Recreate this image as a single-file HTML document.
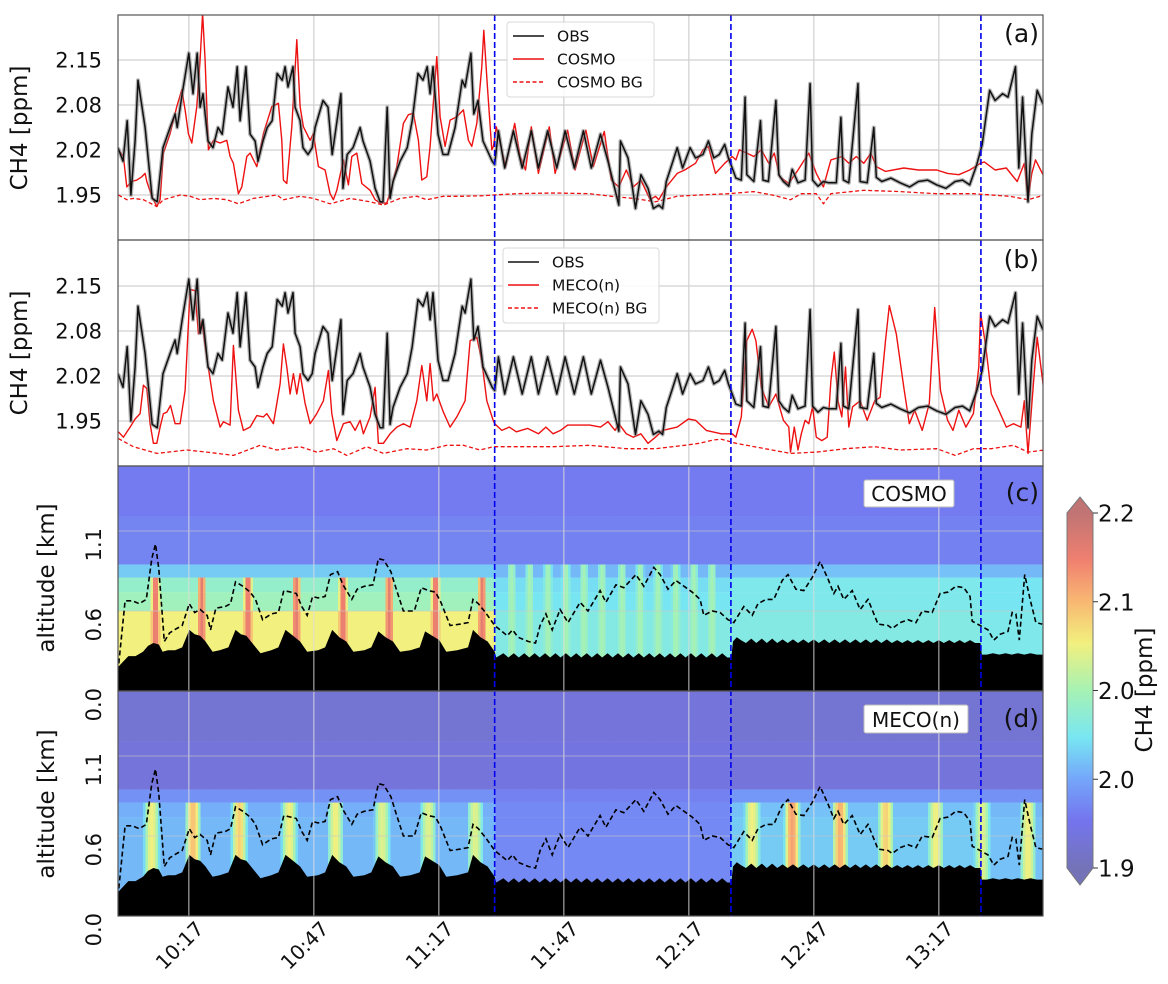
<!DOCTYPE html>
<html><head><meta charset="utf-8">
<style>
html,body{margin:0;padding:0;background:#fff;}
svg{display:block;font-family:"DejaVu Sans","Liberation Sans",sans-serif;}
</style></head>
<body>
<svg id="fig" width="1168" height="984" viewBox="0 0 1168 984" xmlns="http://www.w3.org/2000/svg">
<defs>
<clipPath id="clipA"><rect x="118" y="15" width="925" height="225"/></clipPath>
<clipPath id="clipB"><rect x="118" y="240" width="925" height="226"/></clipPath>
<clipPath id="clipC"><rect x="118" y="466" width="925" height="225"/></clipPath>
<clipPath id="clipD"><rect x="118" y="691" width="925" height="225"/></clipPath>
<linearGradient id="cbGrad" x1="0" y1="1" x2="0" y2="0">
<stop offset="0" stop-color="#7473b8"/><stop offset="0.133" stop-color="#7474ee"/>
<stop offset="0.25" stop-color="#74a6fa"/><stop offset="0.367" stop-color="#78e6f2"/>
<stop offset="0.5" stop-color="#a6f2b4"/><stop offset="0.633" stop-color="#f2f07e"/>
<stop offset="0.75" stop-color="#f8b872"/><stop offset="0.867" stop-color="#f08070"/>
<stop offset="1" stop-color="#c07474"/>
</linearGradient>
</defs>
<g id="root"></g>
</svg>
<script>
// ---------- DATA ----------
const TICK_TIMES = [17, 47, 77, 107, 137, 167, 197];
const TICK_LABELS = ["10:17", "10:47", "11:17", "11:47", "12:17", "12:47", "13:17"];
const CH4_TICKS = [1.95, 2.0167, 2.0833, 2.15];
const CH4_TICK_LABELS = ["1.95", "2.02", "2.08", "2.15"];
const ALT_TICKS = [0, 0.55, 1.1];
const ALT_TICK_LABELS = ["0.0", "0.6", "1.1"];
const SECTION_TIMES = [90.4, 147.1, 207.1];
const CB_TICKS = [1.9, 1.975, 2.05, 2.125, 2.2];
const CB_LABELS = ["1.9", "2.0", "2.0", "2.1", "2.2"];

const OBS_T = [0,1.2,2.2,3.1,4.1,4.8,6.5,8.2,9.4,10.8,12.5,13.7,14.2,15.4,17.0,18.0,19.0,19.7,20.4,21.6,22.8,24.0,25.0,26.4,27.6,28.6,29.3,30.7,31.7,32.9,33.6,34.8,35.8,37.0,38.2,39.4,40.1,40.8,42.0,42.5,43.7,44.4,45.6,46.6,47.3,49.2,50.4,51.4,53.5,54.0,55.0,56.4,58.1,58.8,60.5,61.7,62.9,63.6,64.6,65.3,66.0,67.7,69.4,70.6,72.0,73.2,74.2,74.9,75.6,76.8,78.0,79.2,80.9,82.6,83.3,84.7,85.4,86.4,87.6,89.8,
90.4,91.3,92.8,94.9,97.0,99.2,100.9,103.1,105.3,107.3,109.5,111.7,113.6,115.8,117.6,120.2,120.6,122.4,124.2,125.5,127.2,128.5,129.8,130.7,131.6,132.9,134.2,135.5,137.3,138.6,140.4,141.7,143.0,144.3,145.6,146.5,147.4,148.3,149.6,150.5,150.9,152.6,154.2,154.8,156.1,157.9,158.6,159.7,161.0,161.8,163.2,164.9,166.1,166.7,168.0,169.3,170.6,172.4,173.5,174.1,175.4,177.6,178.1,179.8,181.4,182.0,183.3,185.5,187.7,190,192.1,194.3,196.5,198.7,200.9,202.7,204.4,206.1,207.4,208.3,209.2,210.5,212.3,213.6,215.4,216.2,217.1,218.4,219.3,220.6,222];
const OBS_V = [2.02,2.00,2.06,1.95,2.03,2.12,2.05,1.945,1.94,2.02,2.05,2.07,2.05,2.10,2.16,2.10,2.16,2.08,2.10,2.03,2.02,2.05,2.04,2.11,2.08,2.14,2.06,2.14,2.04,2.03,2.00,2.03,2.05,2.06,2.13,2.12,2.14,2.11,2.14,2.08,2.06,2.02,2.01,2.02,2.05,2.09,2.08,2.01,2.10,1.96,2.01,2.02,2.05,2.03,2.00,1.96,1.94,1.94,2.08,1.945,1.97,2.00,2.02,2.06,2.13,2.12,2.14,2.10,2.14,2.04,2.01,2.01,2.05,2.12,2.11,2.16,2.07,2.09,2.03,2.00,
1.995,2.045,1.99,2.045,1.99,2.045,1.99,2.045,1.99,2.045,1.99,2.045,1.99,2.04,2.00,1.935,2.03,2.005,1.93,1.98,1.96,1.93,1.935,1.93,1.97,1.995,2.02,1.99,2.02,2.005,2.01,2.03,2.005,2.01,2.025,2.005,1.99,1.975,1.972,2.095,1.98,1.97,2.06,1.972,1.97,2.09,1.98,1.97,1.963,1.988,1.968,1.972,2.115,1.972,1.963,1.97,1.968,1.968,2.065,1.972,1.968,2.115,1.97,1.968,2.05,1.976,1.97,1.975,1.968,1.962,1.97,1.972,1.965,1.96,1.97,1.972,1.965,1.995,2.025,2.065,2.105,2.09,2.10,2.095,2.14,1.99,2.095,1.94,2.04,2.105,2.085];

const COSMO_T = [0.1,1.3,2.1,3.3,4.5,5.7,6.5,6.9,8.1,9.3,10.1,10.9,12.5,14.1,15.3,16.1,16.9,17.7,18.9,19.7,20.3,20.9,21.7,22.9,24.5,26.1,26.9,27.7,28.9,29.7,30.9,31.7,33.3,34.9,36.9,38.5,39.3,39.7,40.5,41.7,42.9,43.7,44.5,46.1,46.9,48.1,49.7,50.9,51.7,52.5,54.1,55.3,56.1,57.3,58.5,60.5,61.7,62.9,64.5,65.7,66.9,68.5,69.7,70.9,72.1,72.9,74.1,74.9,76.5,77.3,78.5,79.7,81.3,82.9,84.1,84.9,86.1,87.3,87.8,88.6,89.7,90.1,
90.8,91.7,93.0,95.2,96.5,97.8,99.2,100.9,103.5,104.9,107.9,109.7,112.3,114.1,116.7,118.4,120.2,122.0,123.7,125.5,127.7,129.0,129.8,131.6,134.2,136.0,138.6,140.4,141.7,143.4,145.6,147.4,148.3,149.1,150.9,152.6,154.4,156.2,157.5,158.8,161.0,163.2,165.8,167.6,169.3,171.1,173.7,175.4,177.2,179.0,180.7,182.0,184.2,188.6,192.1,196.5,199.1,201.8,204.4,207.0,207.9,210.5,213.2,215.8,217.5,218.4,219.3,220.2,222.4];
const COSMO_V = [2.017,2.007,1.962,1.970,1.972,1.977,1.982,1.970,1.948,1.933,1.943,2.012,2.041,2.081,2.106,2.076,2.041,2.027,2.081,2.150,2.219,2.150,2.017,2.031,2.027,2.031,2.007,1.997,1.952,1.962,2.007,2.012,1.992,2.041,2.081,2.086,2.031,1.972,1.967,2.051,2.180,2.081,2.051,2.031,2.041,1.992,1.987,1.952,1.943,1.957,2.002,1.965,2.007,2.012,1.967,1.957,1.943,1.938,1.938,1.962,1.992,2.056,2.069,2.071,2.031,1.972,1.977,2.022,2.155,2.066,2.022,2.061,2.066,2.076,2.031,2.022,2.056,2.140,2.194,2.115,2.017,2.022,
2.051,2.027,1.992,2.056,2.007,1.987,2.051,1.982,2.051,1.982,2.046,1.987,2.046,1.992,2.044,1.972,1.962,1.987,1.962,1.972,1.943,1.948,1.943,1.962,1.982,1.987,1.997,2.017,2.022,1.982,1.997,2.007,2.002,2.017,2.012,2.007,2.017,1.997,2.012,1.977,1.967,1.987,2.012,1.982,1.962,2.002,2.007,1.997,2.007,1.997,2.012,1.992,1.985,1.990,1.987,1.987,1.982,1.980,1.987,1.997,1.999,1.987,1.990,1.970,1.997,1.943,1.982,2.002,1.975];

const COSMO_BG_T = [0.1,2.1,3.7,6.1,9.3,10.9,14.9,17.3,19.7,22.9,26.1,28.9,32.5,38.1,39.7,43.7,46.9,50.9,55.7,60.5,63.7,67.7,71.7,74.1,78.1,82.1,87.7,90.1,95.6,104.4,113.2,118.4,123.7,129.0,134.2,139.5,146.5,152.6,157.0,161.4,164.0,167.6,169.3,171.1,179.0,187.7,196.5,205.3,209.6,214.0,218.4,222.4];
const COSMO_BG_V = [1.950,1.943,1.945,1.943,1.933,1.943,1.950,1.948,1.943,1.945,1.943,1.937,1.945,1.950,1.943,1.948,1.945,1.937,1.945,1.940,1.935,1.945,1.948,1.943,1.948,1.948,1.949,1.950,1.952,1.953,1.952,1.948,1.945,1.940,1.948,1.950,1.952,1.955,1.950,1.943,1.952,1.952,1.937,1.952,1.957,1.955,1.952,1.952,1.950,1.948,1.943,1.950];

const MECO_T = [0.1,1.3,2.9,4.1,5.3,6.1,6.9,7.7,8.5,9.3,10.1,10.9,11.7,12.6,13.7,14.9,16.1,17.3,18.5,19.3,20.1,21.3,22.9,24.5,25.3,26.9,27.7,28.9,30.1,31.7,33.3,34.9,35.7,37.3,38.9,39.7,40.5,41.3,42.1,42.9,43.7,44.9,46.1,47.7,49.3,50.5,51.3,52.5,54.1,55.7,56.9,58.1,58.9,60.5,61.7,62.5,63.7,65.3,66.9,68.5,70.1,71.7,72.9,74.1,74.9,75.7,76.5,78.1,79.7,81.3,83.3,84.5,86.1,87.3,88.5,90.1,
90.4,92.1,93.9,95.6,98.3,100.9,102.7,104.4,106.2,107.9,113.2,115.8,117.6,119.3,120.2,122.0,123.7,125.5,127.2,129.0,130.7,134.2,136.9,138.6,141.2,144.8,147.4,148.3,149.6,150.9,152.2,153.1,154.4,156.2,157.9,159.7,161.0,161.4,162.3,163.2,164.0,164.9,165.8,166.7,167.6,168.9,170.2,171.1,171.9,172.8,173.7,174.6,175.4,176.3,178.1,179.8,181.6,182.9,184.2,185.1,186.8,188.6,189.9,191.2,193.0,194.7,196.0,197.4,199.1,200.4,201.8,203.5,205.3,206.6,207.0,208.3,209.6,211.4,213.2,214.9,216.7,217.5,218.4,219.7,220.6,221.5,222.4];
const MECO_V = [1.934,1.926,1.941,1.953,1.961,2.003,1.998,1.946,1.917,1.917,1.941,1.961,1.963,1.973,1.946,1.946,1.995,2.145,2.143,2.079,2.098,2.044,1.980,1.941,1.949,1.944,2.062,1.966,1.936,1.941,1.958,1.956,1.961,1.946,2.005,2.064,2.030,1.990,2.020,1.990,2.020,1.976,1.946,1.961,1.980,2.025,1.961,1.921,1.946,1.949,1.936,1.951,1.931,1.956,2.000,1.917,1.917,1.931,1.941,1.946,1.941,1.980,2.032,1.980,2.035,1.980,1.990,1.963,1.941,1.956,1.980,2.069,2.074,2.039,1.980,1.950,
1.946,1.936,1.941,1.934,1.939,1.931,1.941,1.931,1.936,1.944,1.944,1.941,1.949,1.936,1.946,1.931,1.926,1.931,1.917,1.926,1.936,1.941,1.953,1.951,1.936,1.931,1.931,1.926,1.956,2.069,2.086,2.069,2.000,1.971,1.990,1.951,1.941,1.904,1.941,1.907,1.931,1.951,1.946,1.971,1.926,1.921,1.926,2.010,2.052,1.980,1.956,2.030,1.941,1.971,1.980,1.951,1.980,1.985,2.069,2.121,2.079,2.000,1.946,1.966,1.936,1.976,2.118,1.995,1.951,1.936,1.966,1.941,1.961,2.030,2.111,2.059,1.990,1.966,1.941,1.946,1.941,1.980,1.902,2.005,2.074,2.030,1.985];

const MECO_BG_T = [0.1,3.7,9.3,16.5,21.3,27.7,34.1,38.1,43.7,47.7,51.7,54.9,59.7,63.7,69.3,74.1,78.9,82.9,86.9,90.1,97.4,104.4,113.2,122.0,129.0,136.0,139.5,143.0,144.8,148.3,155.3,161.4,167.6,174.6,181.6,187.7,196.5,200.9,205.3,209.6,214.9,218.4,222.4];
const MECO_BG_V = [1.924,1.912,1.902,1.907,1.904,1.899,1.914,1.907,1.912,1.904,1.909,1.899,1.912,1.902,1.909,1.907,1.914,1.914,1.907,1.912,1.912,1.912,1.914,1.909,1.909,1.914,1.917,1.922,1.923,1.917,1.909,1.902,1.904,1.909,1.912,1.907,1.909,1.899,1.909,1.909,1.914,1.904,1.907];

const PBL_T = [0.2,1.7,3.4,5.1,6.8,8.1,9.0,9.8,11.1,12.4,14.1,15.4,16.2,17.1,18.4,19.7,21.4,22.2,23.5,25.7,27.0,28.2,30.0,31.7,33.0,34.7,36.8,38.5,39.8,41.5,42.8,44.1,45.4,46.7,48.0,49.7,51.0,52.7,54.0,56.1,57.4,59.1,61.2,62.5,63.8,65.5,66.8,68.5,71.1,72.8,74.5,76.2,77.5,79.7,82.2,84.0,85.2,86.5,88.2,90.4,91.7,93.4,94.7,96.0,98.5,100.2,
101.3,102.7,104.2,106.1,108.0,110.9,112.8,115.7,117.1,119.5,121.4,124.3,126.2,128.6,130.1,132.0,133.9,137.8,139.7,140.6,142.6,144.5,146.4,147.8,150.2,152.2,153.6,155.5,157.4,159.4,160.8,162.7,164.6,166.6,168.5,170.4,171.8,172.8,174.2,176.2,178.1,180.0,182.4,184.8,185.8,187.7,189.6,191.5,193.0,195.4,197.3,199.2,201.1,203.0,204.5,205.0,206.9,208.8,210.2,211.7,213.6,214.6,215.5,216.3,217.6,218.9,220.3,221.8];
const PBL_ALT = [0.19,0.62,0.62,0.60,0.63,0.91,1.01,0.84,0.34,0.40,0.43,0.45,0.52,0.60,0.54,0.56,0.52,0.42,0.57,0.58,0.60,0.75,0.72,0.68,0.63,0.49,0.53,0.54,0.69,0.68,0.67,0.58,0.52,0.65,0.64,0.65,0.80,0.82,0.73,0.63,0.70,0.72,0.73,0.91,0.90,0.82,0.70,0.55,0.55,0.71,0.69,0.68,0.61,0.45,0.46,0.47,0.63,0.60,0.54,0.45,0.42,0.38,0.42,0.37,0.34,0.33,
0.45,0.53,0.42,0.56,0.47,0.61,0.55,0.69,0.61,0.73,0.71,0.80,0.72,0.85,0.80,0.70,0.76,0.68,0.63,0.52,0.55,0.54,0.49,0.47,0.58,0.52,0.60,0.63,0.63,0.76,0.80,0.70,0.69,0.78,0.89,0.77,0.67,0.72,0.63,0.69,0.56,0.63,0.46,0.45,0.43,0.47,0.49,0.47,0.55,0.54,0.67,0.68,0.72,0.71,0.65,0.48,0.45,0.42,0.35,0.39,0.41,0.54,0.53,0.35,0.80,0.63,0.47,0.46];

const TERRAIN_T = [0,0.2,2.5,4.2,6.0,7.2,8.5,9.8,10.7,12.0,13.7,15.4,17.1,18.4,19.7,21.0,22.7,24.4,26.5,28.2,29.5,30.8,32.5,34.2,36.8,38.5,40.2,42.0,43.7,45.4,48.0,49.7,51.4,53.1,54.8,56.5,59.1,60.8,62.5,64.2,66.0,67.7,70.2,72.4,73.7,75.4,77.1,78.8,81.4,84.0,85.2,87.0,88.7,90.4,90.8,
92.5,93.7,95.0,96.2,97.5,98.7,100.0,101.2,102.5,103.7,105.0,106.2,107.5,108.7,110.0,111.2,112.5,113.7,115.0,116.2,117.5,118.7,120.0,121.2,122.5,123.7,125.0,126.2,127.5,128.7,130.0,131.2,132.5,133.7,135.0,136.2,137.5,138.7,140.0,141.2,142.5,143.7,145.0,146.2,147.2,
147.6,148.5,149.5,150.7,152.0,153.2,154.5,155.7,157.0,158.2,159.5,160.7,162.0,163.2,164.5,165.7,167.0,168.2,169.5,170.7,172.0,173.2,174.5,175.7,177.0,178.2,179.5,180.7,182.0,183.2,184.5,185.7,187.0,188.2,189.5,190.7,192.0,193.2,194.5,195.7,197.0,198.2,199.5,200.7,202.0,203.2,204.5,205.7,207.0,
207.3,208.5,210.0,211.5,213.0,214.5,216.0,217.5,219.0,220.5,222];
const TERRAIN_ALT = [0.17,0.17,0.24,0.24,0.27,0.31,0.33,0.32,0.27,0.28,0.28,0.30,0.42,0.39,0.38,0.34,0.27,0.28,0.30,0.42,0.39,0.38,0.32,0.26,0.28,0.30,0.42,0.38,0.34,0.27,0.28,0.30,0.42,0.37,0.34,0.27,0.28,0.30,0.41,0.37,0.34,0.27,0.28,0.30,0.41,0.38,0.35,0.27,0.28,0.30,0.42,0.37,0.34,0.27,0.23,
0.26,0.23,0.26,0.23,0.26,0.23,0.26,0.23,0.26,0.23,0.26,0.23,0.26,0.23,0.26,0.23,0.26,0.23,0.26,0.23,0.26,0.23,0.26,0.23,0.26,0.23,0.26,0.23,0.26,0.23,0.26,0.23,0.26,0.23,0.26,0.23,0.26,0.23,0.26,0.23,0.26,0.23,0.26,0.23,0.23,
0.34,0.37,0.35,0.33,0.36,0.33,0.36,0.33,0.36,0.33,0.355,0.33,0.355,0.33,0.355,0.33,0.355,0.33,0.355,0.33,0.355,0.33,0.355,0.33,0.355,0.33,0.355,0.33,0.355,0.33,0.355,0.33,0.35,0.33,0.35,0.33,0.35,0.33,0.35,0.33,0.35,0.33,0.35,0.33,0.35,0.33,0.35,0.33,0.33,
0.25,0.25,0.26,0.25,0.26,0.25,0.26,0.25,0.26,0.25,0.25];

const HM_LEVELS = [0, 0.55, 0.68, 0.78, 0.87, 1.2, 1.6];
const HM_SEG_END = [90.4, 147.1, 207.1, 222.5];
const COSMO_BANDS = [
  [2.09, 2.02, 2.02, 2.015],
  [2.045, 2.01, 2.015, 2.01],
  [2.035, 2.005, 2.015, 2.01],
  [1.995, 1.985, 1.99, 1.985],
  [1.952, 1.95, 1.95, 1.95],
  [1.944, 1.944, 1.944, 1.944]];
const COSMO_PLUME_T = [9.0,20.1,31.2,42.8,54.0,65.1,76.2,87.4,94.5,98.8,103.2,107.5,111.8,116.2,121.0,125.3,129.6,133.9,138.2,142.6];
const COSMO_PLUME_V = [2.17,2.17,2.17,2.17,2.17,2.17,2.17,2.17,2.05,2.05,2.05,2.05,2.05,2.05,2.05,2.05,2.05,2.05,2.05,2.05];
const COSMO_PLUME_TOP = [0.7,0.7,0.7,0.7,0.7,0.7,0.7,0.7,0.87,0.87,0.87,0.87,0.87,0.87,0.87,0.87,0.87,0.87,0.87,0.87];
const MECO_BANDS = [
  [1.985, 1.955, 1.995, 1.99],
  [1.985, 1.955, 1.995, 1.99],
  [1.98, 1.955, 1.99, 1.985],
  [1.96, 1.95, 1.965, 1.96],
  [1.925, 1.93, 1.925, 1.925],
  [1.92, 1.925, 1.92, 1.92]];
const MECO_PLUME_T = [8.1,18.0,29.1,41.1,52.2,63.4,74.5,85.7,152.2,161.8,173.3,184.3,196.3,207.4,218.4];
const MECO_PLUME_V = [2.09,2.12,2.11,2.09,2.09,2.08,2.08,2.08,2.09,2.14,2.13,2.11,2.09,2.08,2.09];
const MECO_PLUME_TOP = [0.78,0.78,0.78,0.78,0.78,0.78,0.78,0.78,0.78,0.78,0.78,0.78,0.78,0.78,0.78];

// ---------- RENDER ----------
const NS = "http://www.w3.org/2000/svg";
const root = document.getElementById("root");
function mk(tag, attrs, parent, text) {
  const e = document.createElementNS(NS, tag);
  for (const k in attrs) e.setAttribute(k, attrs[k]);
  if (text !== undefined) e.textContent = text;
  (parent || root).appendChild(e);
  return e;
}
const X0 = 118, X1 = 1043;
const xs = t => X0 + t * (925 / 222);
const yA = v => 195 - (v - 1.95) * 675;
const yB = v => 421 - (v - 1.95) * 675;
const yC = a => 691 - a * 145.45;
const yD = a => 916 - a * 145.45;
const PANELS = [[15, 240], [240, 466], [466, 691], [691, 916]];

const CM_V = [1.90, 1.94, 1.975, 2.01, 2.05, 2.09, 2.125, 2.16, 2.2];
const CM_C = [[116,115,184],[116,116,238],[116,166,250],[120,230,242],[166,242,180],[242,240,126],[248,184,114],[240,128,112],[192,116,116]];
function cmap(v) {
  if (v <= CM_V[0]) return "rgb(" + CM_C[0].join(",") + ")";
  for (let i = 1; i < CM_V.length; i++) {
    if (v <= CM_V[i]) {
      const f = (v - CM_V[i-1]) / (CM_V[i] - CM_V[i-1]);
      const c = CM_C[i-1].map((a, j) => Math.round(a + (CM_C[i][j] - a) * f));
      return "rgb(" + c.join(",") + ")";
    }
  }
  return "rgb(" + CM_C[CM_C.length-1].join(",") + ")";
}
function pathOf(T, V, ys) {
  const n = Math.min(T.length, V.length);
  let d = "";
  for (let i = 0; i < n; i++) d += (i ? "L" : "M") + xs(T[i]).toFixed(1) + "," + ys(V[i]).toFixed(1);
  return d;
}

PANELS.forEach((p, i) => {
  const r = mk("rect", {x: X0, y: p[0], width: X1 - X0, height: p[1] - p[0], fill: "#fff"});
  
  
});

function heatmap(bands, PT, PV, PTOP, ys, clip, name, pw) {
  const g = mk("g", {"clip-path": "url(#" + clip + ")"});
  
  
  const STEP = 0.6;
  for (let t0 = 0; t0 < 222; t0 += STEP) {
    const tm = t0 + STEP / 2;
    let seg = 0;
    while (seg < HM_SEG_END.length - 1 && tm > HM_SEG_END[seg]) seg++;
    for (let j = 0; j < HM_LEVELS.length - 1; j++) {
      const a0 = HM_LEVELS[j], a1 = HM_LEVELS[j+1];
      const base = bands[j][seg];
      let v = base;
      for (let p = 0; p < PT.length; p++) {
        const dt = Math.abs(tm - PT[p]);
        if (dt < pw && a0 < PTOP[p] - 0.01) {
          const f = 1 - Math.pow(dt / pw, 2);
          v = Math.max(v, base + (PV[p] - base) * f);
        }
      }
      const c = mk("rect", {x: xs(t0).toFixed(2), y: ys(a1).toFixed(2), width: (xs(t0 + STEP) - xs(t0) + 0.6).toFixed(2), height: (ys(a0) - ys(a1)).toFixed(2), fill: cmap(v)}, g);
      
      
    }
  }
}
heatmap(COSMO_BANDS, COSMO_PLUME_T, COSMO_PLUME_V, COSMO_PLUME_TOP, yC, "clipC", "cosmo-heatmap", 1.1);
heatmap(MECO_BANDS, MECO_PLUME_T, MECO_PLUME_V, MECO_PLUME_TOP, yD, "clipD", "meco-heatmap", 2.0);

[[yC, "clipC", "terrain-c"], [yD, "clipD", "terrain-d"]].forEach(([ys, clip, name]) => {
  let d = "M" + X0 + "," + ys(0);
  const n = Math.min(TERRAIN_T.length, TERRAIN_ALT.length);
  for (let i = 0; i < n; i++) d += "L" + xs(TERRAIN_T[i]).toFixed(1) + "," + ys(TERRAIN_ALT[i]).toFixed(1);
  d += "L" + X1 + "," + ys(TERRAIN_ALT[n-1]).toFixed(1) + "L" + X1 + "," + ys(0) + "Z";
  const e = mk("path", {d: d, fill: "#000", "clip-path": "url(#" + clip + ")"});
  
  
});

PANELS.forEach((p, i) => {
  const heat = i >= 2;
  const col = heat ? "rgba(220,220,220,0.75)" : "#d0d0d0";
  TICK_TIMES.forEach(t => {
    const l = mk("line", {x1: xs(t), x2: xs(t), y1: p[0], y2: p[1], stroke: col, "stroke-width": 1.2});
    
    
  });
  if (!heat) {
    const ys = i === 0 ? yA : yB;
    CH4_TICKS.forEach(v => {
      const l = mk("line", {x1: X0, x2: X1, y1: ys(v), y2: ys(v), stroke: col, "stroke-width": 1.2});
      
      
    });
  } else {
    const ys = i === 2 ? yC : yD;
    ALT_TICKS.slice(1).forEach(a => {
      const l = mk("line", {x1: X0, x2: X1, y1: ys(a), y2: ys(a), stroke: "rgba(200,200,200,0.6)", "stroke-width": 1});
      
      
    });
  }
});

[[yC, "clipC", "pbl-line-c"], [yD, "clipD", "pbl-line-d"]].forEach(([ys, clip, name]) => {
  const e = mk("path", {d: pathOf(PBL_T, PBL_ALT, ys), fill: "none", stroke: "#000", "stroke-width": 1.6, "stroke-dasharray": "5,3", "clip-path": "url(#" + clip + ")"});
  
  
});

function series(T, V, ys, clip, stroke, w, dash, name) {
  const e = mk("path", {d: pathOf(T, V, ys), fill: "none", stroke: stroke, "stroke-width": w, "stroke-linejoin": "round", "clip-path": "url(#" + clip + ")"});
  if (dash) e.setAttribute("stroke-dasharray", dash);
  
  
}
series(COSMO_BG_T, COSMO_BG_V, yA, "clipA", "#ee1111", 1.3, "4,2.5", "cosmo-bg-line");
series(COSMO_T, COSMO_V, yA, "clipA", "#ee1111", 1.4, null, "cosmo-line");
series(OBS_T, OBS_V, yA, "clipA", "rgba(120,120,120,0.55)", 4, null, "obs-uncertainty-a");
series(OBS_T, OBS_V, yA, "clipA", "#111", 1.5, null, "obs-line-a");
series(MECO_BG_T, MECO_BG_V, yB, "clipB", "#ee1111", 1.3, "4,2.5", "meco-bg-line");
series(MECO_T, MECO_V, yB, "clipB", "#ee1111", 1.4, null, "meco-line");
series(OBS_T, OBS_V, yB, "clipB", "rgba(120,120,120,0.55)", 4, null, "obs-uncertainty-b");
series(OBS_T, OBS_V, yB, "clipB", "#111", 1.5, null, "obs-line-b");

SECTION_TIMES.forEach(t => {
  const l = mk("line", {x1: xs(t), x2: xs(t), y1: 15, y2: 916, stroke: "#0000ee", "stroke-width": 1.6, "stroke-dasharray": "6,3"});
  
  
});

PANELS.forEach((p, i) => {
  const r = mk("rect", {x: X0, y: p[0], width: X1 - X0, height: p[1] - p[0], fill: "none", stroke: "#555", "stroke-width": 1.2});
  
  
});

[[yA, "a"], [yB, "b"]].forEach(([ys, n]) => {
  CH4_TICKS.forEach((v, k) => {
    const t = mk("text", {x: 102, y: ys(v) + 7.5, "text-anchor": "end", "font-size": 21, fill: "#111"}, root, CH4_TICK_LABELS[k]);
    
    
  });
});
[[yC, "c"], [yD, "d"]].forEach(([ys, n]) => {
  ALT_TICKS.forEach((a, k) => {
    const y = ys(a) - 3;
    const t = mk("text", {x: 101, y: y, "text-anchor": "end", "font-size": 21, fill: "#111", transform: "rotate(-90 101 " + y + ")"}, root, ALT_TICK_LABELS[k]);
    
    
  });
});
TICK_TIMES.forEach((tm, k) => {
  const x = xs(tm) + 16, y = 930;
  const t = mk("text", {x: x, y: y, "text-anchor": "end", "font-size": 20, fill: "#111", transform: "rotate(-45 " + x + " " + y + ")"}, root, TICK_LABELS[k]);
  
  
});
[["CH4 [ppm]", 27, 128, "y-axis-title-a"], ["CH4 [ppm]", 27, 353, "y-axis-title-b"], ["altitude [km]", 54, 578, "y-axis-title-c"], ["altitude [km]", 54, 804, "y-axis-title-d"]].forEach(([s, x, y, nm]) => {
  const t = mk("text", {x: x, y: y, "text-anchor": "middle", "font-size": 23, fill: "#111", transform: "rotate(-90 " + x + " " + y + ")"}, root, s);
  
  
});
[["(a)", 42], ["(b)", 268], ["(c)", 501], ["(d)", 727]].forEach(([s, y]) => {
  const t = mk("text", {x: 1039, y: y, "text-anchor": "end", "font-size": 25, fill: "#111"}, root, s);
  
  
});
[["COSMO", 864, 480, 90, 27], ["MECO(n)", 864, 705, 104, 28]].forEach(([s, x, y, w, h]) => {
  const g = mk("g", {});
  
  
  mk("rect", {x: x, y: y, width: w, height: h, fill: "#fff", stroke: "#bbb", rx: 2}, g);
  mk("text", {x: x + w / 2, y: y + h - 6, "text-anchor": "middle", "font-size": 20, fill: "#111"}, g, s);
});
function legend(x, y, w, lx, names, nm) {
  const g = mk("g", {});
  
  
  mk("rect", {x: x, y: y, width: w, height: 75, fill: "rgba(255,255,255,0.85)", stroke: "#d8d8d8", rx: 3}, g);
  const styles = [["#111", null], ["#ee1111", null], ["#ee1111", "4,2.5"]];
  names.forEach((s, i) => {
    const yy = y + 14 + i * 23;
    const l = mk("line", {x1: lx, x2: lx + 31, y1: yy, y2: yy, stroke: styles[i][0], "stroke-width": 1.5}, g);
    if (styles[i][1]) l.setAttribute("stroke-dasharray", styles[i][1]);
    
    
    const t = mk("text", {x: lx + 44, y: yy + 5.5, "font-size": 15.5, fill: "#111"}, g, s);
    
    
  });
}
legend(507, 22, 147, 513, ["OBS", "COSMO", "COSMO BG"], "legend-a");
legend(503, 248, 156, 508, ["OBS", "MECO(n)", "MECO(n) BG"], "legend-b");

(function () {
  const g = mk("g", {});
  
  
  const cx0 = 1067, cx1 = 1093, top = 513, bot = 868;
  const cy = v => bot - (v - 1.9) / 0.3 * (bot - top);
  mk("polygon", {points: cx0 + "," + top + " " + cx1 + "," + top + " " + (cx0 + cx1) / 2 + ",497", fill: "#c07474"}, g);
  mk("polygon", {points: cx0 + "," + bot + " " + cx1 + "," + bot + " " + (cx0 + cx1) / 2 + ",885", fill: "#7473b8"}, g);
  mk("rect", {x: cx0, y: top, width: cx1 - cx0, height: bot - top, fill: "url(#cbGrad)"}, g);
  mk("polygon", {points: cx0 + "," + top + " " + (cx0 + cx1) / 2 + ",497 " + cx1 + "," + top + " " + cx1 + "," + bot + " " + (cx0 + cx1) / 2 + ",885 " + cx0 + "," + bot, fill: "none", stroke: "#777", "stroke-width": 1}, g);
  CB_TICKS.forEach((v, k) => {
    mk("line", {x1: cx1, x2: cx1 + 5, y1: cy(v), y2: cy(v), stroke: "#333"}, g);
    const t = mk("text", {x: cx1 + 5, y: cy(v) + 8.5, "font-size": 23, fill: "#111"}, g, CB_LABELS[k]);
    
    
  });
  const t = mk("text", {x: 1152, y: 690, "text-anchor": "middle", "font-size": 23, fill: "#111", transform: "rotate(-90 1152 690)"}, g, "CH4 [ppm]");
  
  
})();
</script>
</body></html>
